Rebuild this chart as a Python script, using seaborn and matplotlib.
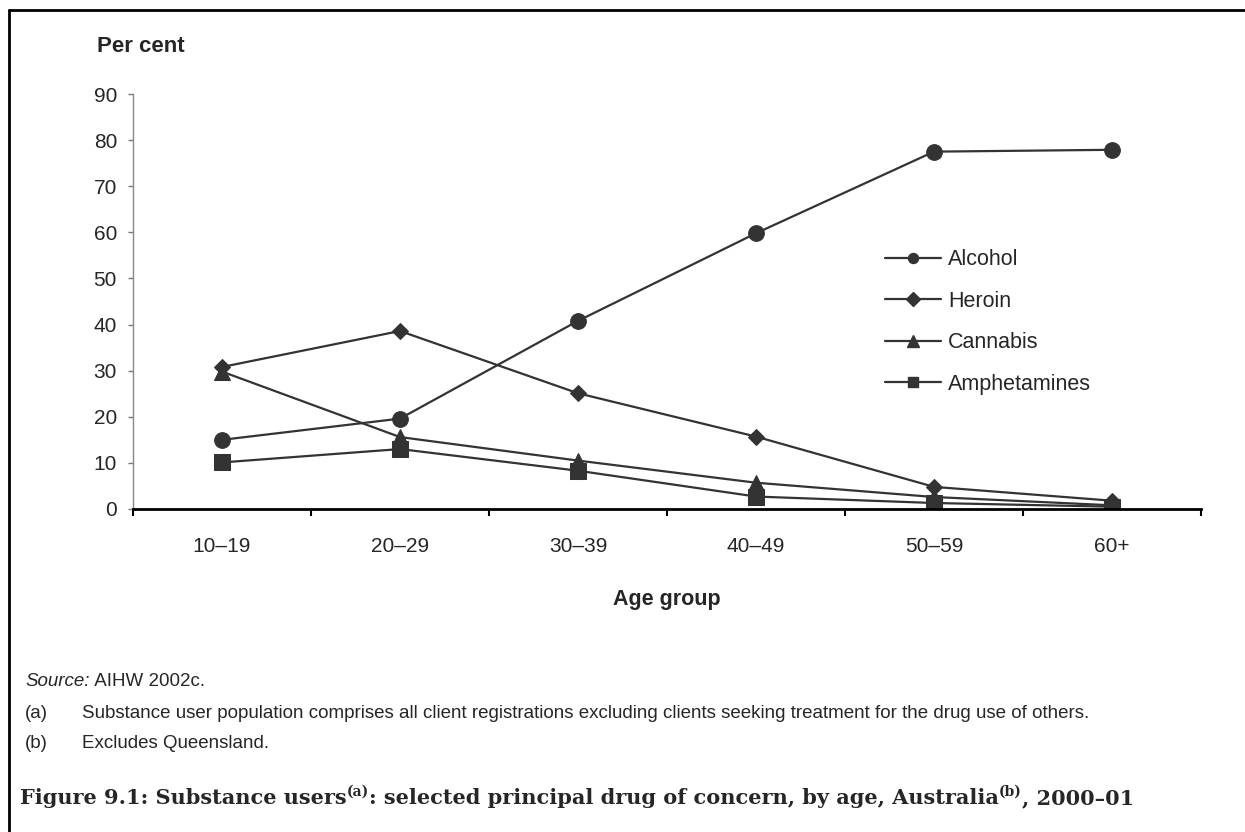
import matplotlib
matplotlib.use("Agg")
import matplotlib.pyplot as plt
from matplotlib.lines import Line2D
import seaborn as sns
import pandas as pd

# data
age_groups = ["10–19", "20–29", "30–39", "40–49", "50–59", "60+"]
alcohol = [15.0, 19.6, 40.8, 59.8, 77.5, 77.9]
heroin = [30.8, 38.6, 25.1, 15.7, 4.8, 1.8]
cannabis = [29.8, 15.6, 10.5, 5.7, 2.6, 0.8]
amphetamines = [10.1, 13.0, 8.3, 2.7, 1.3, 0.5]
drugs = ["Alcohol", "Heroin", "Cannabis", "Amphetamines"]
y_ticks = [0, 10, 20, 30, 40, 50, 60, 70, 80, 90]

series = dict(zip(drugs, [alcohol, heroin, cannabis, amphetamines]))
rows = []
for drug, vals in series.items():
    for i, v in enumerate(vals):
        rows.append({"drug": drug, "pos": i, "value": v})
df = pd.DataFrame(rows)

sns.set_style("white")
plt.rcParams["font.family"] = ["Liberation Sans", "DejaVu Sans"]

ink = "#333333"
markers = {"Alcohol": "o", "Heroin": "D", "Cannabis": "^", "Amphetamines": "s"}
msizes = {"Alcohol": 11.3, "Heroin": 8.5, "Cannabis": 11.5, "Amphetamines": 11}
leg_sizes = {"Alcohol": 7.2, "Heroin": 7, "Cannabis": 8.6, "Amphetamines": 7.2}

W, H = 1245, 832
x0, x1, y0, y1 = 133, 1201, 509, 94   # axes box in pixels
fig = plt.figure(figsize=(W / 100, H / 100), dpi=100)
ax = fig.add_axes([x0 / W, 1 - y0 / H, (x1 - x0) / W, (y0 - y1) / H])

for drug in drugs:
    sub = df[df["drug"] == drug]
    sns.lineplot(data=sub, x="pos", y="value", ax=ax, color=ink, lw=1.6,
                 marker=markers[drug], markersize=msizes[drug],
                 markeredgecolor=ink, markerfacecolor=ink, legend=False)

ax.set_xlim(-0.5, len(age_groups) - 0.5)
ax.set_ylim(0, 90)
ax.set_yticks(y_ticks)
ax.set_yticklabels([str(t) for t in y_ticks], fontsize=15)
ax.set_xticks(range(len(age_groups)))
ax.set_xticklabels(age_groups, fontsize=15)
ax.set_xticks([i - 0.5 for i in range(len(age_groups) + 1)], minor=True)
ax.tick_params(axis="x", which="major", length=0, pad=20)
ax.tick_params(axis="x", which="minor", length=5, width=1.5, direction="out", bottom=True, color="black")
ax.tick_params(axis="y", length=3.5, width=1, direction="out", left=True, color="#777777", pad=8)
ax.set_xlabel("")
ax.set_ylabel("")

for s in ["top", "right"]:
    ax.spines[s].set_visible(False)
ax.spines["left"].set_color("#888888")
ax.spines["left"].set_linewidth(1.0)
ax.spines["bottom"].set_color("black")
ax.spines["bottom"].set_linewidth(2.0)

fig.text(97 / W, 1 - 47 / H, "Per cent", fontsize=16, fontweight="bold", va="center")
fig.text((x0 + x1) / 2 / W, 1 - 600 / H, "Age group", fontsize=15.5,
         fontweight="bold", ha="center", va="center")

handles = [Line2D([], [], color=ink, lw=1.6, marker=markers[d], markersize=leg_sizes[d],
                  markerfacecolor=ink, markeredgecolor=ink) for d in drugs]
ax.legend(handles, drugs, frameon=False, fontsize=15.5, handlelength=2.6,
          handletextpad=0.34, labelspacing=0.95, borderpad=0, loc="center left",
          bbox_to_anchor=((874 - x0) / (x1 - x0), (y0 - 322) / (y0 - y1)))

# footnotes
fn = 13.5
src = fig.text(25 / W, 1 - 682 / H, "Source:", fontsize=fn, style="italic", va="center")
ax.annotate(" AIHW 2002c.", xy=(1, 0), xycoords=(src, src), fontsize=fn,
            va="bottom", annotation_clip=False)
fig.text(25 / W, 1 - 713 / H, "(a)", fontsize=fn, va="center")
fig.text(82 / W, 1 - 713 / H,
         "Substance user population comprises all client registrations excluding clients seeking treatment for the drug use of others.",
         fontsize=fn, va="center")
fig.text(25 / W, 1 - 744 / H, "(b)", fontsize=fn, va="center")
fig.text(82 / W, 1 - 744 / H, "Excludes Queensland.", fontsize=fn, va="center")

# title with superscripts
tfont = dict(fontsize=15, fontweight="bold", family=["DejaVu Serif"])
parts = [("Figure 9.1: Substance users", False), ("(a)", True),
         (": selected principal drug of concern, by age, Australia", False), ("(b)", True),
         (", 2000–01", False)]
base = fig.text(20 / W, 1 - 808 / H, parts[0][0], va="bottom", **tfont)
prev = base
for txt, sup in parts[1:]:
    kw = dict(tfont)
    if sup:
        kw["fontsize"] = 10
    prev = ax.annotate(txt, xy=(1, 0), xycoords=(prev, base), xytext=(0, 6.5 if sup else 0),
                       textcoords="offset points", va="bottom", annotation_clip=False, **kw)

# page frame
fig.add_artist(Line2D([9 / W, 1], [1 - 10 / H, 1 - 10 / H], color="black", lw=2))
fig.add_artist(Line2D([9 / W, 9 / W], [0, 1 - 10 / H], color="black", lw=2))

fig.savefig("out.png", dpi=100)
